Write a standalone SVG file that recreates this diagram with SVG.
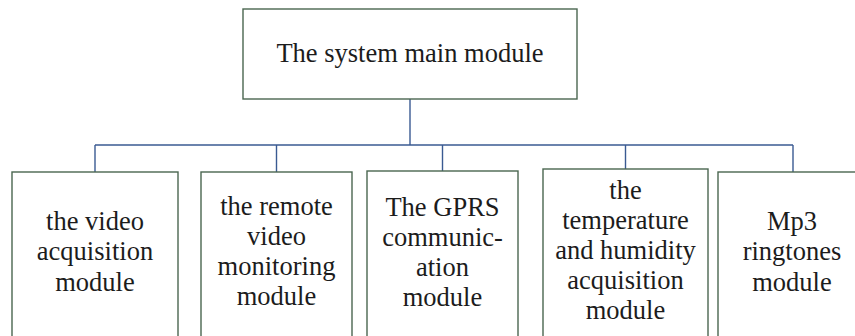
<svg xmlns="http://www.w3.org/2000/svg" width="855" height="336" viewBox="0 0 855 336">
  <style>
    .box { fill: #ffffff; stroke: #4a6650; stroke-width: 1.4; }
    .lbl { font-family: "Liberation Serif", "Times New Roman", serif; font-size: 26.5px; fill: #1c1c1c; text-anchor: middle; }
    .wire { fill: none; stroke: #3a5a92; stroke-width: 1.4; }
  </style>
  <rect width="855" height="336" fill="#ffffff"/>

  <!-- tree connectors -->
  <g id="connectors">
    <path class="wire" d="M410 99 V145"/>
    <path class="wire" d="M95 145 H793"/>
    <path class="wire" d="M95 145 V172"/>
    <path class="wire" d="M276.5 145 V172"/>
    <path class="wire" d="M442.5 145 V171"/>
    <path class="wire" d="M625.5 145 V169"/>
    <path class="wire" d="M793 145 V172"/>
  </g>

  <g id="main-module">
    <rect class="box" x="243" y="9" width="334" height="90"/>
    <text class="lbl" x="410" y="62">The system main module</text>
  </g>

  <g id="video-acquisition">
    <rect class="box" x="12" y="172" width="166" height="170"/>
    <text class="lbl" x="95" y="230">the video</text>
    <text class="lbl" x="95" y="260">acquisition</text>
    <text class="lbl" x="95" y="290.5">module</text>
  </g>

  <g id="remote-monitoring">
    <rect class="box" x="201" y="172" width="151" height="170"/>
    <text class="lbl" x="276.5" y="215">the remote</text>
    <text class="lbl" x="276.5" y="245">video</text>
    <text class="lbl" x="276.5" y="275">monitoring</text>
    <text class="lbl" x="276.5" y="305">module</text>
  </g>

  <g id="gprs-communication">
    <rect class="box" x="367" y="171" width="151" height="171"/>
    <text class="lbl" x="442.5" y="215.5">The GPRS</text>
    <text class="lbl" x="442.5" y="245.5">communic-</text>
    <text class="lbl" x="442.5" y="275.5">ation</text>
    <text class="lbl" x="442.5" y="305.5">module</text>
  </g>

  <g id="temperature-humidity">
    <rect class="box" x="543" y="169" width="165" height="173"/>
    <text class="lbl" x="625.5" y="199">the</text>
    <text class="lbl" x="625.5" y="229">temperature</text>
    <text class="lbl" x="625.5" y="259">and humidity</text>
    <text class="lbl" x="625.5" y="289">acquisition</text>
    <text class="lbl" x="625.5" y="319">module</text>
  </g>

  <g id="mp3-ringtones">
    <rect class="box" x="718" y="172" width="150" height="170"/>
    <text class="lbl" x="792" y="230">Mp3</text>
    <text class="lbl" x="792" y="260">ringtones</text>
    <text class="lbl" x="792" y="290.5">module</text>
  </g>
</svg>
